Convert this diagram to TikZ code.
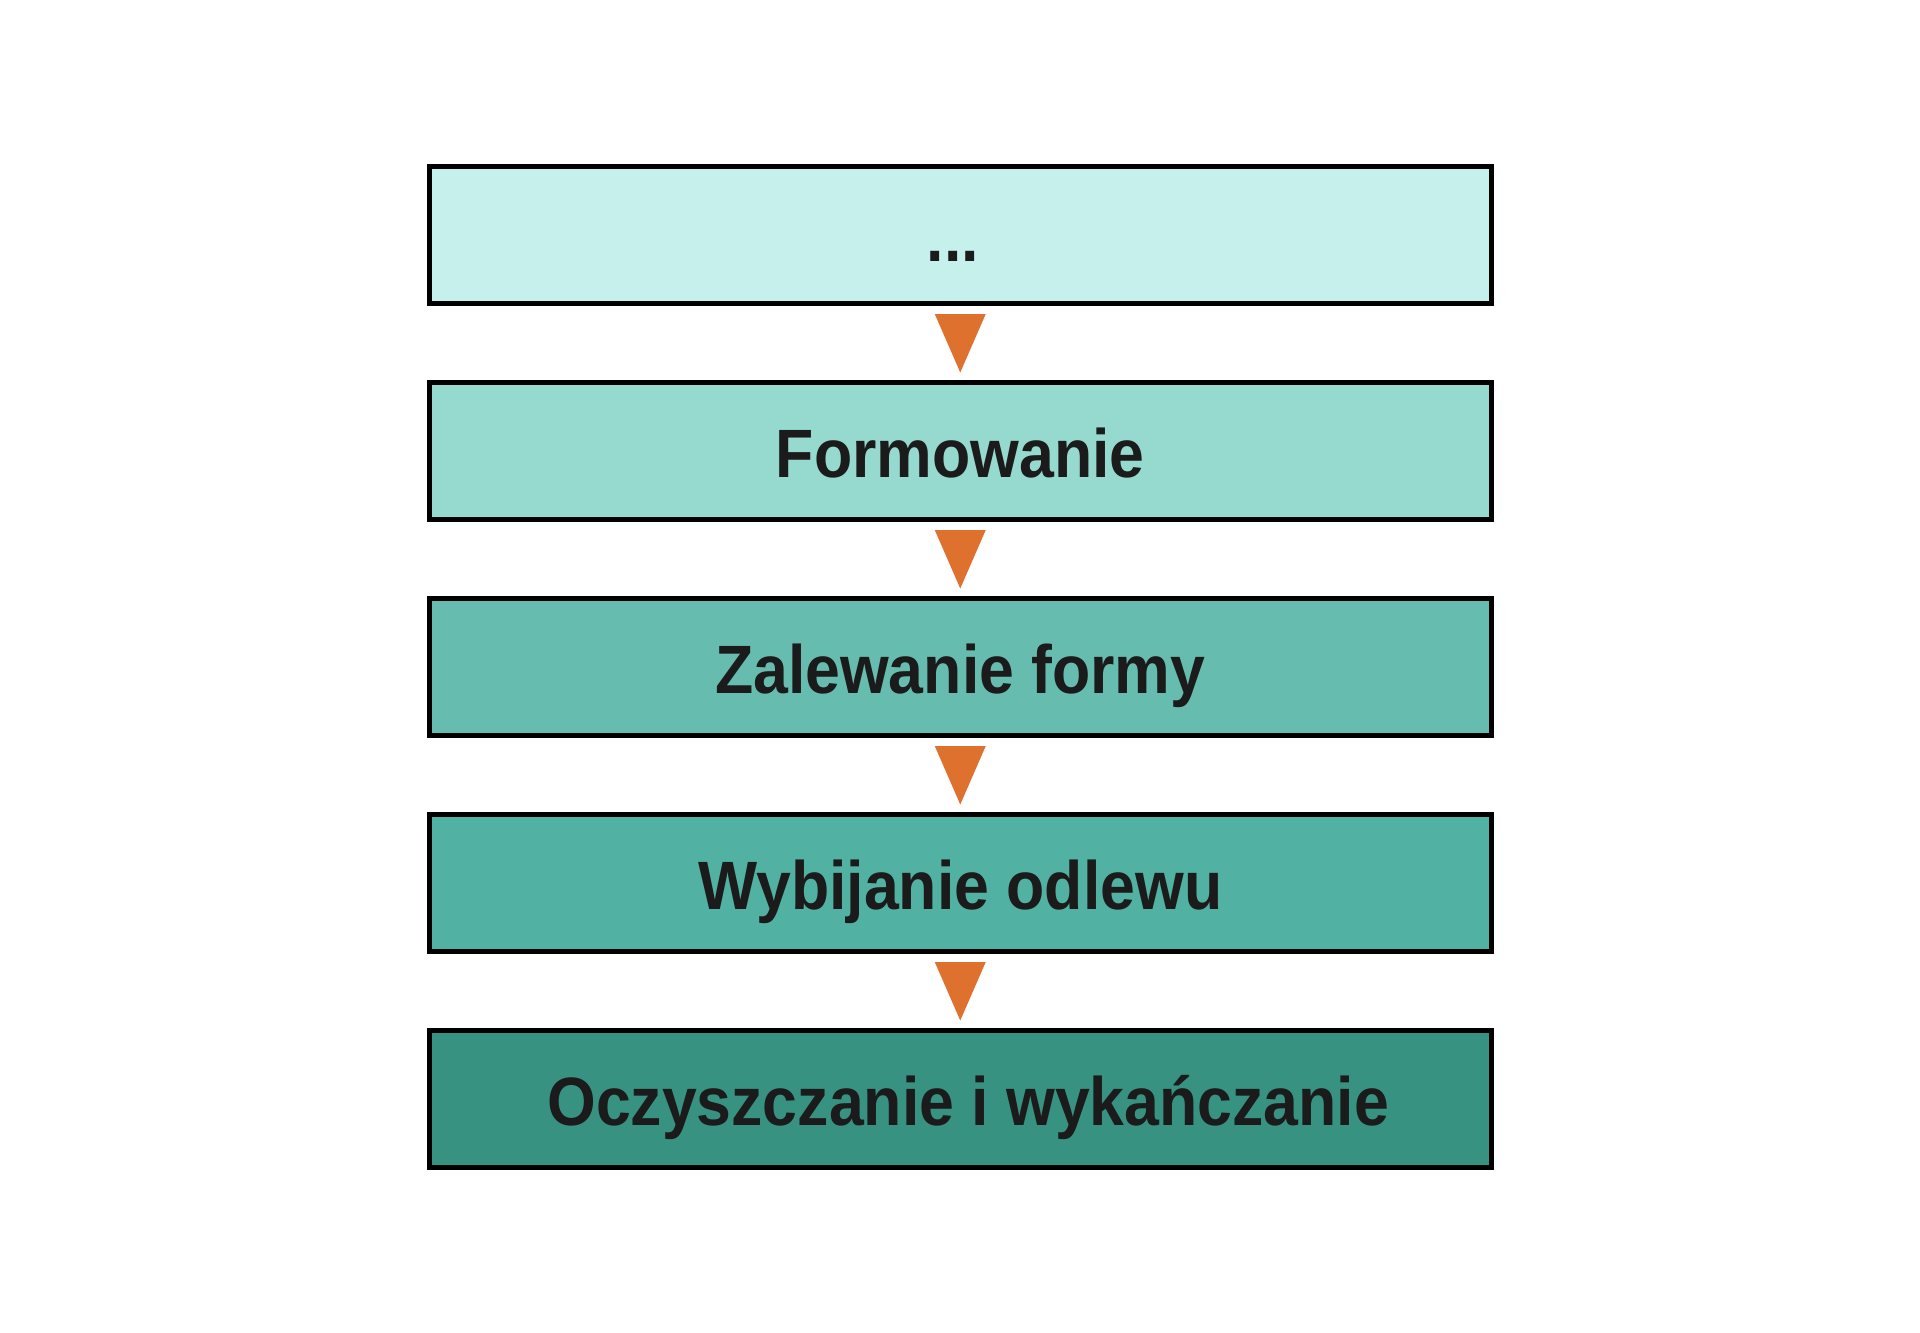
\documentclass[tikz,border=0pt]{standalone}
\usepackage{fontspec}
\newfontfamily\boxfont{Liberation Sans}[FakeStretch=0.915]
\usetikzlibrary{calc}
\definecolor{cA}{HTML}{C6F0EB}
\definecolor{cB}{HTML}{95D9CF}
\definecolor{cC}{HTML}{66BDAF}
\definecolor{cD}{HTML}{51B1A2}
\definecolor{cE}{HTML}{379282}
\definecolor{arr}{HTML}{DF712E}
\definecolor{txt}{HTML}{1B1B1B}
\tikzset{
  stepbox/.style={draw=black, line width=5pt, minimum width=1061.5pt, minimum height=137pt,
    inner sep=0pt, text height=53pt, text depth=0pt, text=txt,
    font=\boxfont\bfseries\fontsize{68.4}{80}\selectfont},
  tri/.style={fill=arr, draw=none}
}
\newcommand{\downtri}[1]{%
  \fill[tri] ($(#1.south)+(-25.5pt,-8.5pt)$) -- ($(#1.south)+(25.5pt,-8.5pt)$) -- ($(#1.south)+(0pt,-67pt)$) -- cycle;}
\begin{document}
\begin{tikzpicture}[x=1pt,y=-1pt]
\useasboundingbox (0,0) rectangle (1920,1333);
\fill[white] (0,0) rectangle (1920,1333);
\node[stepbox, fill=cA] (b1) at (960.25,234.5) {...\hspace*{15pt}};
\node[stepbox, fill=cB] (b2) at (960.25,450.5) {Formowanie};
\node[stepbox, fill=cC] (b3) at (960.25,666.5) {Zalewanie formy};
\node[stepbox, fill=cD] (b4) at (960.25,882.5) {Wybijanie odlewu};
\node[stepbox, fill=cE] (b5) at (960.25,1098.5) {\hspace*{16pt}Oczyszczanie i wykańczanie};
\downtri{b1}
\downtri{b2}
\downtri{b3}
\downtri{b4}
\end{tikzpicture}
\end{document}
